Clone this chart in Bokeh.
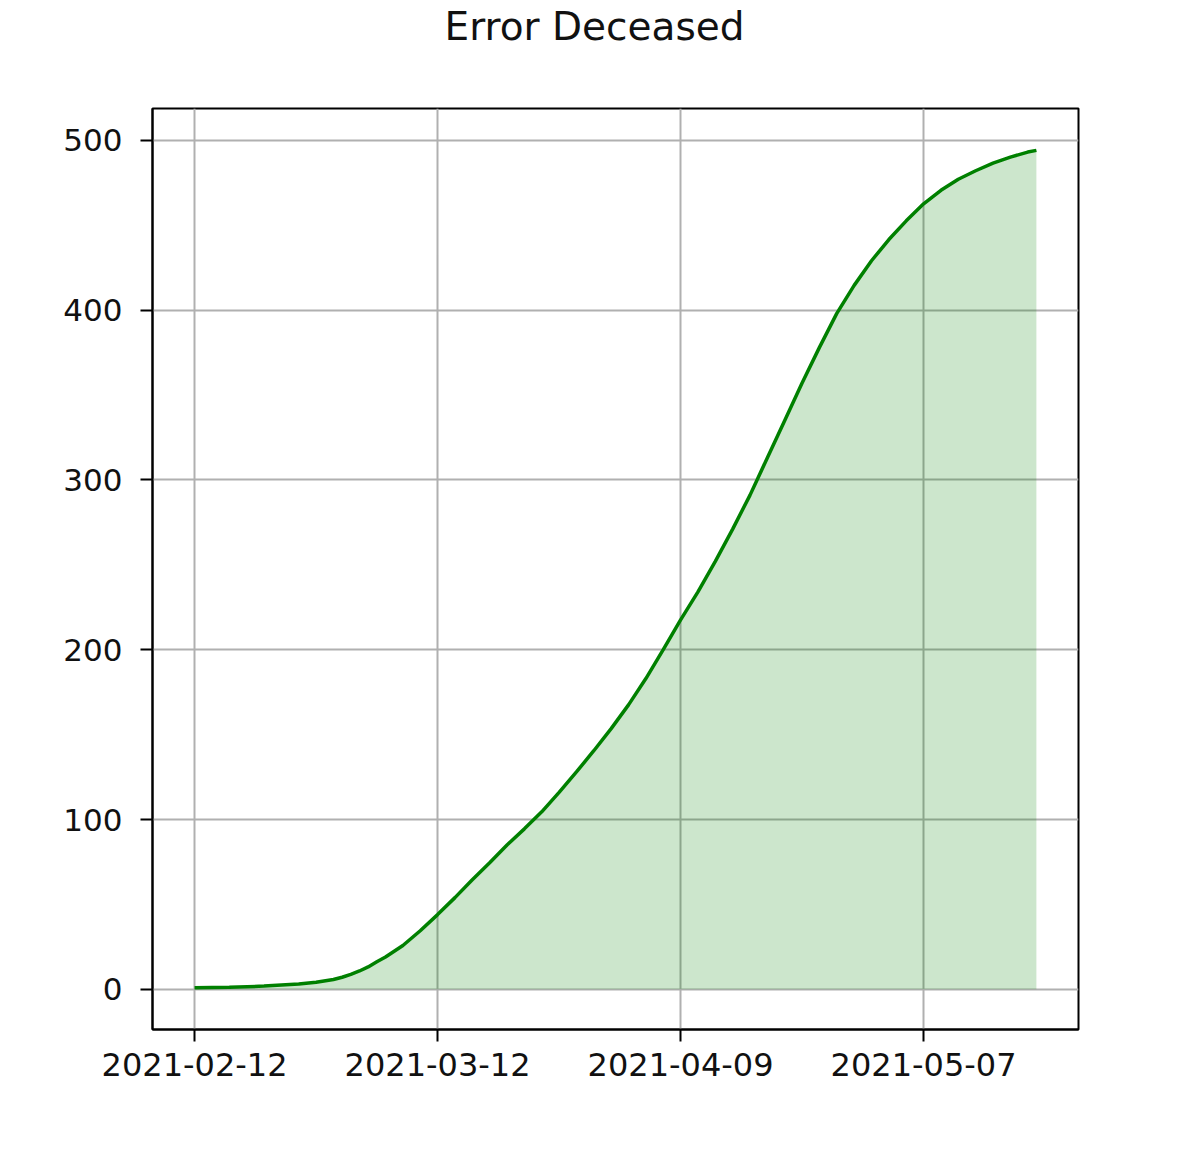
import pandas as pd
from bokeh.plotting import figure
from bokeh.models import ColumnDataSource, Range1d, FixedTicker, DatetimeTickFormatter, Label
from bokeh.embed import file_html
from bokeh.resources import INLINE

# ---- data ----
dates = [
    "2021-02-12", "2021-02-16", "2021-02-20", "2021-02-24", "2021-02-26",
    "2021-02-28", "2021-03-01", "2021-03-02", "2021-03-03", "2021-03-04",
    "2021-03-05", "2021-03-06", "2021-03-08", "2021-03-10",
    "2021-03-12", "2021-03-14", "2021-03-16", "2021-03-18", "2021-03-20",
    "2021-03-22", "2021-03-24", "2021-03-26", "2021-03-28", "2021-03-30",
    "2021-04-01", "2021-04-03", "2021-04-05", "2021-04-07", "2021-04-09",
    "2021-04-11", "2021-04-13", "2021-04-15", "2021-04-17", "2021-04-19",
    "2021-04-21", "2021-04-23", "2021-04-25", "2021-04-27", "2021-04-29",
    "2021-05-01", "2021-05-03", "2021-05-05", "2021-05-07", "2021-05-09",
    "2021-05-11", "2021-05-13", "2021-05-15", "2021-05-17", "2021-05-19",
    "2021-05-20",
]
deceased_error = [
    1.0, 1.2, 1.9, 3.1, 4.2,
    5.8, 7.1, 8.8, 10.8, 13.2,
    16.2, 19.0, 25.8, 34.5,
    44.0, 54.0, 64.5, 74.5, 85.0,
    94.5, 104.5, 116.0, 128.0, 140.5,
    153.5, 167.5, 183.0, 200.0, 217.5,
    234.0, 252.0, 271.0, 291.0, 313.0,
    335.0, 357.0, 378.0, 398.0, 414.5,
    429.0, 441.5, 452.5, 462.5, 470.5,
    477.0, 482.0, 486.5, 490.0, 493.0,
    494.0,
]
x_tick_labels = ["2021-02-12", "2021-03-12", "2021-04-09", "2021-05-07"]
y_ticks = [0, 100, 200, 300, 400, 500]
title_text = "Error Deceased"

# ---- build ----
x = pd.to_datetime(dates)
src = ColumnDataSource(dict(x=x, y=deceased_error, zero=[0] * len(dates)))

FONT = "DejaVu Sans"
FRAME_W, FRAME_H = 926, 921
BORDER_L, BORDER_R, BORDER_T, BORDER_B = 152, 110, 108, 123

xmin, xmax = x.min(), x.max()
xpad = (xmax - xmin) * 0.05
ymin, ymax = min(deceased_error), max(deceased_error)
ypad = (ymax - ymin) * 0.05

p = figure(
    frame_width=FRAME_W, frame_height=FRAME_H,
    min_border_left=BORDER_L, min_border_right=BORDER_R,
    min_border_top=BORDER_T, min_border_bottom=BORDER_B,
    x_axis_type="datetime",
    x_range=Range1d(xmin - xpad, xmax + xpad),
    y_range=Range1d(ymin - ypad, ymax + ypad),
    output_backend="svg", toolbar_location=None,
    background_fill_color="white", border_fill_color="white",
)

p.varea(x="x", y1="zero", y2="y", source=src, fill_color="green", fill_alpha=0.2)
p.line(x="x", y="y", source=src, line_color="green", line_width=3.5)

xt = [pd.Timestamp(t).value // 10**6 for t in x_tick_labels]
p.xaxis.ticker = FixedTicker(ticks=xt)
p.xgrid.ticker = FixedTicker(ticks=xt)
p.xaxis.formatter = DatetimeTickFormatter(days="%Y-%m-%d", months="%Y-%m-%d")
p.yaxis.ticker = FixedTicker(ticks=y_ticks)
p.ygrid.ticker = FixedTicker(ticks=y_ticks)

for ax in (p.xaxis[0], p.yaxis[0]):
    ax.axis_line_color = "black"
    ax.axis_line_width = 2
    ax.major_tick_line_color = "black"
    ax.major_tick_line_width = 2
    ax.major_tick_out = 12
    ax.major_tick_in = 0
    ax.minor_tick_line_color = None
    ax.major_label_text_font = FONT
    ax.major_label_text_color = "#111111"
p.xaxis.major_label_text_font_size = "32px"
p.yaxis.major_label_text_font_size = "31px"
p.xaxis.major_label_standoff = 11
p.yaxis.major_label_standoff = 18

for g in (p.xgrid[0], p.ygrid[0]):
    g.grid_line_color = "#b0b0b0"
    g.grid_line_width = 2

p.outline_line_color = "black"
p.outline_line_width = 2

# title centred on the whole canvas, in the top border (screen units of the above panel)
canvas_w = BORDER_L + FRAME_W + BORDER_R
p.add_layout(Label(x=canvas_w / 2 - BORDER_L, y=82, x_units="screen", y_units="screen",
                   text=title_text, text_align="center", text_baseline="alphabetic",
                   text_font=FONT, text_font_size="39px", text_color="#111111"), "above")

open("out.html", "w").write(file_html(p, INLINE))
